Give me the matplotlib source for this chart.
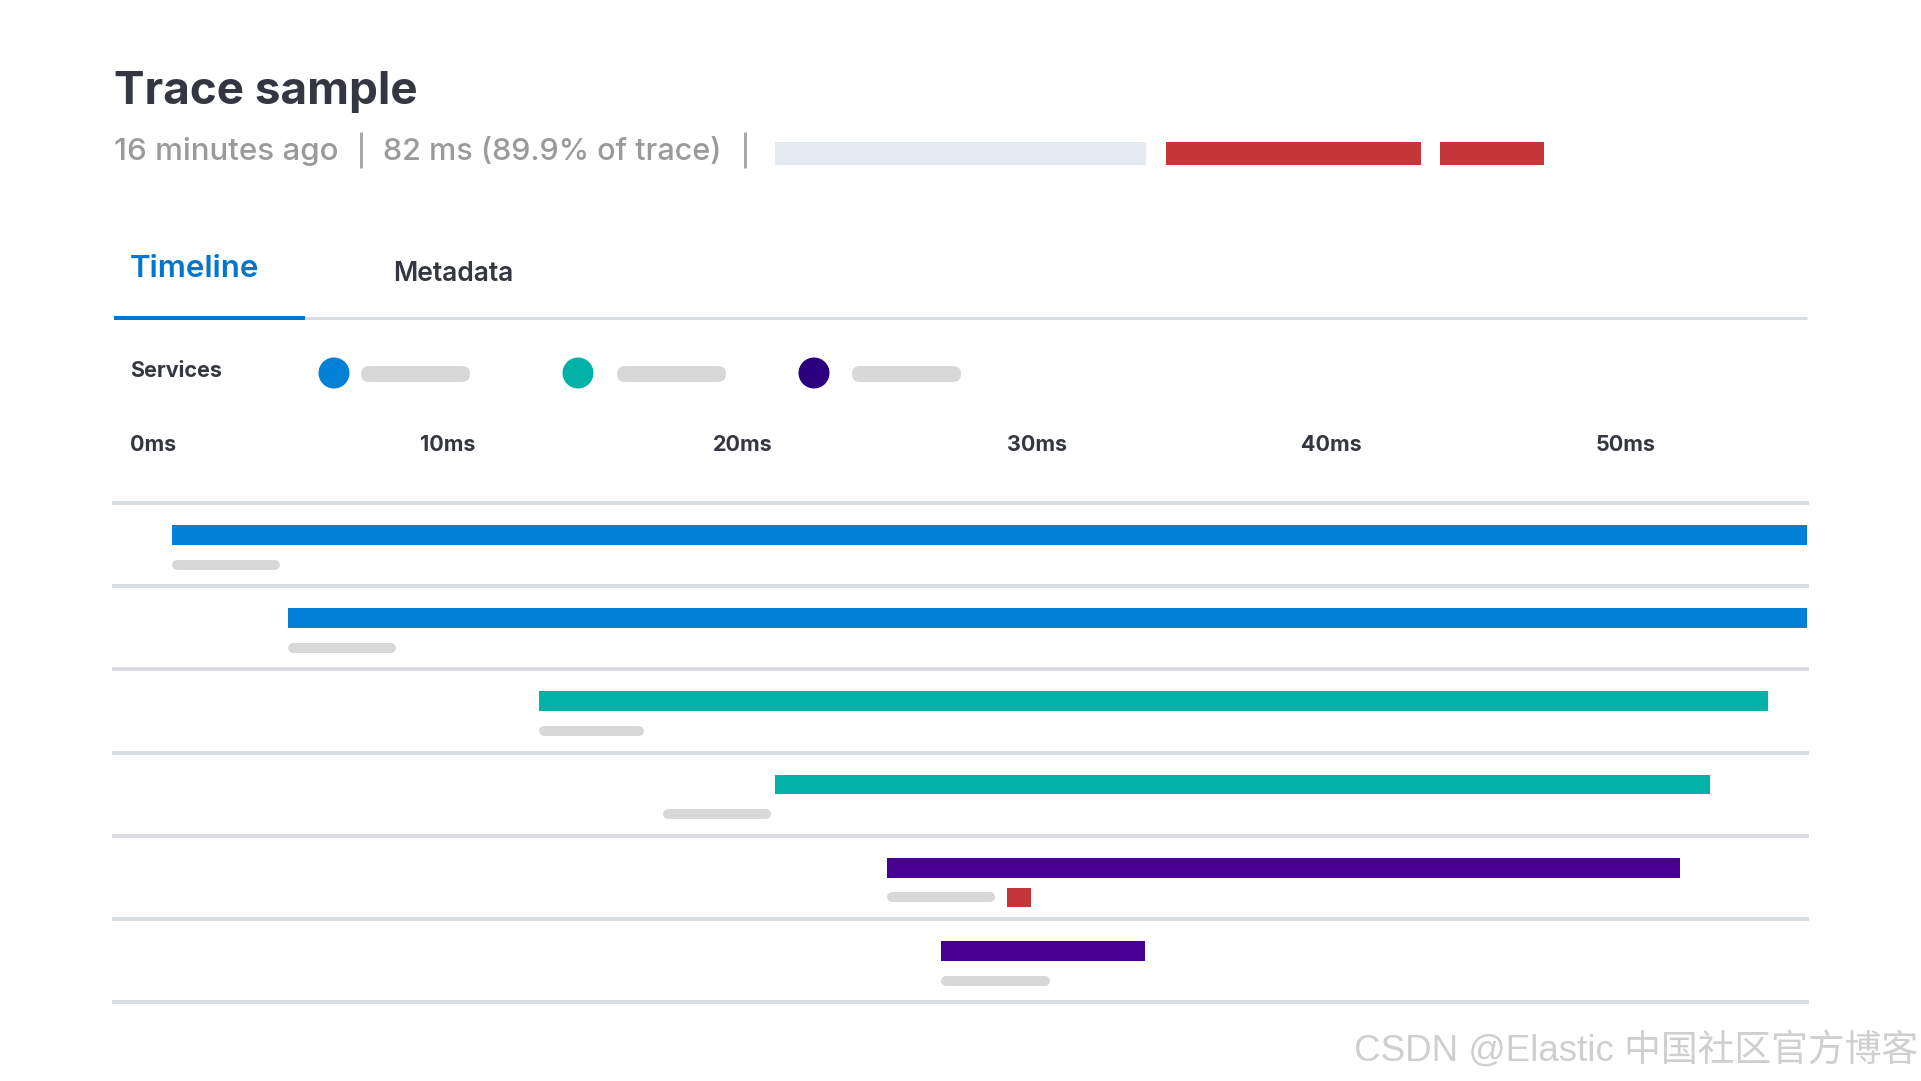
import matplotlib
matplotlib.use("Agg")
import matplotlib.pyplot as plt
from matplotlib.patches import Circle, FancyBboxPatch
import numpy as np

plt.rcParams['font.family'] = ['Inter', 'DejaVu Sans']

# ---- data ----
title = "Trace sample"
age_text = "16 minutes ago"
duration_text = "82 ms (89.9% of trace)"

# summary strip above the tabs (percent of strip width)
summary_start = [0.0, 50.8, 86.5]
summary_width = [48.2, 33.2, 13.5]
summary_colors = ['#E5E9F0', '#C4363A', '#C4363A']

tabs = ["Timeline", "Metadata"]

# services legend (names are blurred out in the picture)
service_dot_colors = ['#0180D5', '#02B2A6', '#2A007F']
service_bar_colors = ['#0180D5', '#02B2A6', '#480092']

# timeline ticks
tick_ms = [0, 10, 20, 30, 40, 50]
tick_labels = ['0ms', '10ms', '20ms', '30ms', '40ms', '50ms']

# spans (ms)
span_service = [0, 0, 1, 1, 2, 2]
span_start = [0.63, 4.57, 13.09, 21.11, 24.92, 26.75]
span_end = [56.17, 56.17, 54.86, 52.89, 51.85, 33.68]
label_start = [0.63, 4.57, 13.09, 17.30, 24.92, 26.75]
label_len = [3.67, 3.67, 3.57, 3.67, 3.67, 3.70]
error_row = [4]
error_start = [29.0]
error_len = [0.8]

watermark = "CSDN @Elastic 中国社区官方博客"

# ---- layout ----
W, H = 1921, 1081
DARK = '#343741'
GRAY = '#9A9A9A'
LINE = '#D9DCE3'


def rect(x0, y0, x1, y1):
    return [x0 / W, 1 - y1 / H, (x1 - x0) / W, (y1 - y0) / H]


def px2pt(p):
    return p * 72 / 100


fig = plt.figure(figsize=(W / 100, H / 100), dpi=100)
fig.patch.set_facecolor('white')

bg = fig.add_axes([0, 0, 1, 1])
bg.set_xlim(0, W)
bg.set_ylim(H, 0)
bg.axis('off')

# header
bg.text(114, 104, title, fontsize=33, fontweight='bold', color=DARK, va='baseline')
bg.text(114, 160, age_text, fontsize=22.5, fontweight='medium', color=GRAY, va='baseline')
bg.text(383, 160, duration_text, fontsize=22, fontweight='medium', color=GRAY, va='baseline')
for sx in [361, 745]:
    bg.plot([sx, sx], [132, 168], color='#A8A8A8', lw=px2pt(3), solid_capstyle='butt')

hdr = fig.add_axes(rect(775, 141.7, 1544, 165))
hdr.barh([0] * len(summary_start), summary_width, left=summary_start,
         height=1.0, color=summary_colors)
hdr.set_xlim(0, 100)
hdr.set_ylim(-0.5, 0.5)
hdr.axis('off')

# tabs
bg.text(130, 277, tabs[0], fontsize=22.5, fontweight='semibold', color='#0077CC', va='baseline')
bg.text(393, 281, tabs[1], fontsize=19, fontweight='semibold', color=DARK, va='baseline')
bg.plot([114, 1807], [317.5, 317.5], color=LINE, lw=px2pt(3), solid_capstyle='butt')
bg.plot([114, 305], [318, 318], color='#0077CC', lw=px2pt(4), solid_capstyle='butt')

# services legend
bg.text(130, 377, "Services", fontsize=15.5, fontweight='bold', color=DARK, va='baseline')
for cx, px0, col in zip([334, 578, 814], [361, 617, 852], service_dot_colors):
    bg.add_patch(Circle((cx, 373), 15.5, color=col, lw=0))
    bg.add_patch(FancyBboxPatch((px0, 366), 109, 16,
                                boxstyle="round,pad=0,rounding_size=8",
                                fc='#D8D8D8', ec='none'))

# timeline
x0_px, x1_px = 114, 1807
y0_px, y1_px = 503.3, 1001.7
xmin, xmax = -1.342, 56.17
ax = fig.add_axes(rect(x0_px, y0_px, x1_px, y1_px))
ax.set_xlim(xmin, xmax)
nrows = len(span_start)
ax.set_ylim(nrows, 0)
for s in ax.spines.values():
    s.set_visible(False)
ax.set_yticks([])

for r in range(nrows + 1):
    ax.axhline(r, color=LINE, lw=px2pt(4), clip_on=False, zorder=1)

rows = np.arange(nrows)
ax.barh(rows + 0.385, np.array(span_end) - np.array(span_start), left=span_start,
        height=0.24, color=[service_bar_colors[i] for i in span_service], zorder=2)

px_per_ms = (x1_px - x0_px) / (xmax - xmin)
pill_px = 10
inset = pill_px / 2 / px_per_ms
for r, s, l in zip(rows, label_start, label_len):
    ax.plot([s + inset, s + l - inset], [r + 0.745, r + 0.745], color='#D8D8D8',
            lw=px2pt(pill_px), solid_capstyle='round', zorder=2)

ax.barh(np.array(error_row) + 0.745, error_len, left=error_start, height=0.23,
        color='#C4363A', zorder=3)

ax.xaxis.tick_top()
ax.set_xticks(tick_ms)
ax.set_xticklabels(tick_labels, fontsize=15.5, fontweight='bold', color=DARK)
ax.tick_params(axis='x', length=0, pad=35)

# watermark
bg.text(1918, 1050, watermark, fontsize=26.5, color='#CFCFCF', ha='right', va='center',
        family=['Liberation Sans', 'Noto Sans CJK SC'])

fig.savefig('out.png', dpi=100, facecolor='white')
